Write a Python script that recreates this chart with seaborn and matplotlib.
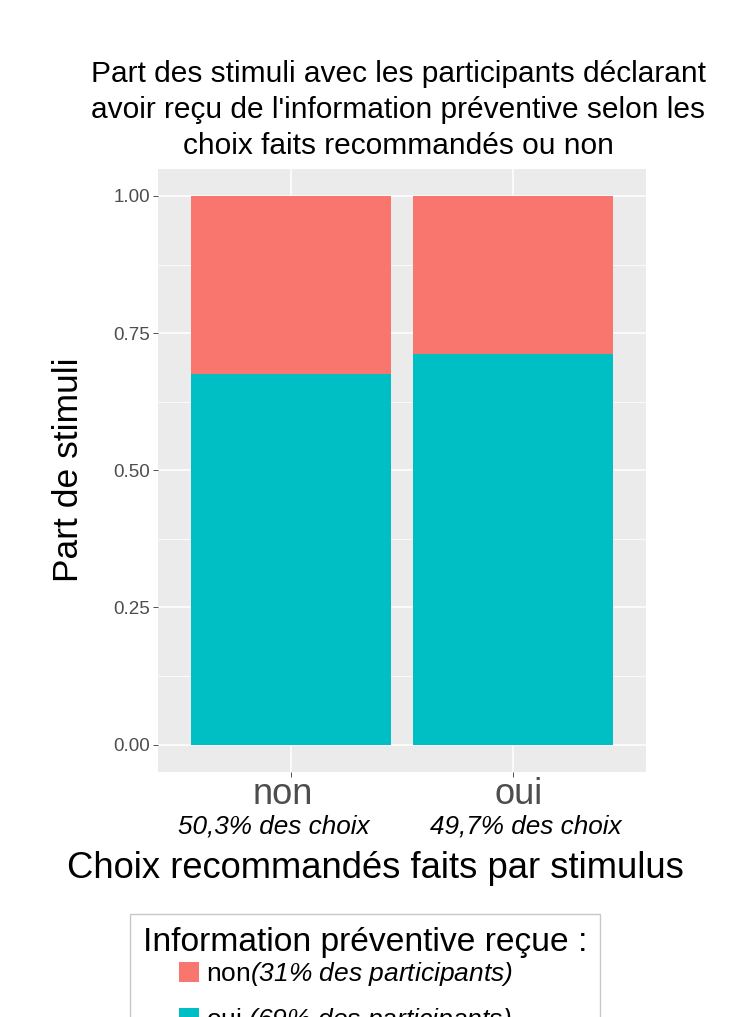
import pandas as pd
import numpy as np
import seaborn as sns
import matplotlib.pyplot as plt
from matplotlib.patches import Patch
from matplotlib.ticker import MultipleLocator

# donnees
choix = ["non", "oui"]
part_oui = [0.675, 0.712]   # information preventive recue : oui
part_non = [0.325, 0.288]   # information preventive recue : non
part_choix = ["50,3% des choix", "49,7% des choix"]
legende_labels = ["non", "oui "]
legende_part = ["(31% des participants)", "(69% des participants)"]

titre = ("Part des stimuli avec les participants déclarant\n"
         "avoir reçu de l'information préventive selon les\n"
         "choix faits recommandés ou non")

rouge = "#F8766D"
bleu = "#00BFC4"

sns.set_theme(style="white")
plt.rcParams['font.family'] = ['Liberation Sans', 'DejaVu Sans']
plt.rcParams['text.color'] = 'black'
plt.rcParams['axes.labelcolor'] = 'black'
# le mathtext ne sert qu'aux parties en italique de la legende
plt.rcParams['mathtext.fontset'] = 'custom'
plt.rcParams['mathtext.rm'] = 'Liberation Sans:italic'
plt.rcParams['mathtext.it'] = 'Liberation Sans:italic'

df = pd.DataFrame({"choix": choix, "oui": part_oui, "non": part_non})
df["total"] = df["oui"] + df["non"]

fig = plt.figure(figsize=(7.56, 10.17), dpi=100)
ax = fig.add_axes([158/756, 1-772/1017, 488/756, 603.5/1017])
ax.set_facecolor("#EBEBEB")

# barres empilees : total (non) puis oui par dessus
sns.barplot(data=df, x="choix", y="total", color=rouge, width=0.9,
            saturation=1, linewidth=0, ax=ax, zorder=2)
sns.barplot(data=df, x="choix", y="oui", color=bleu, width=0.9,
            saturation=1, linewidth=0, ax=ax, zorder=3)

ax.set_xlim(-0.6, 1.6)
ax.set_ylim(-0.05, 1.05)
ax.yaxis.set_minor_locator(MultipleLocator(0.125))
ax.set_yticks([0, 0.25, 0.5, 0.75, 1.0])
ax.set_yticklabels(["0.00", "0.25", "0.50", "0.75", "1.00"])
ax.grid(True, which='major', color='white', linewidth=1.1, zorder=0)
ax.grid(True, which='minor', axis='y', color='white', linewidth=0.55, zorder=0)
ax.set_axisbelow(True)
for s in ax.spines.values():
    s.set_visible(False)

ax.tick_params(axis='y', which='major', length=3.5, width=0.6, color='#333333',
               labelsize=13.5, labelcolor='#4D4D4D', pad=2, left=True)
ax.tick_params(axis='y', which='minor', length=0, left=False)
ax.tick_params(axis='x', length=3.5, width=0.6, color='#333333',
               labelbottom=False, bottom=True)

# etiquettes des categories sur deux lignes (la 2e en italique)
decal_cat = [-8, 6]
decal_part = [-17, 13]
for i, (cat, txt) in enumerate(zip(choix, part_choix)):
    ax.annotate(cat, xy=(i, 0), xycoords=('data', 'axes fraction'),
                xytext=(decal_cat[i] * 0.72, -16.5), textcoords='offset points',
                ha='center', va='center', fontsize=26, color='#4D4D4D')
    ax.annotate(txt, xy=(i, 0), xycoords=('data', 'axes fraction'),
                xytext=(decal_part[i] * 0.72, -39), textcoords='offset points',
                ha='center', va='center', fontsize=18.8, style='italic',
                color='black')

ax.set_xlabel("Choix recommandés faits par stimulus", fontsize=26.2, va='center')
ax.xaxis.set_label_coords((375-158)/488, -(869-772)/603.5)
ax.set_ylabel("Part de stimuli", fontsize=25.5, va='center')
ax.yaxis.set_label_coords(-(158-68)/488, 0.5)

fig.text(398/756, 1-110/1017, titre, ha='center', va='center',
         fontsize=21.5, multialignment='center', linespacing=1.36)

handles = [Patch(facecolor=rouge, edgecolor='none'),
           Patch(facecolor=bleu, edgecolor='none')]
# espaces en fin d'etiquette : decale les entrees vers la gauche comme l'original
labels = [lab + "$" + part.replace('%', r'\%').replace(' ', r'\ ') + "$" + "      "
          for lab, part in zip(legende_labels, legende_part)]
leg = fig.legend(handles, labels, title="Information préventive reçue :",
                 loc='upper left', bbox_to_anchor=(130/756, 1-914/1017),
                 borderaxespad=0, fontsize=19, title_fontsize=24.2,
                 frameon=True, fancybox=False, edgecolor='#BBBBBB',
                 handlelength=0.76, handleheight=0.8, handletextpad=0.25,
                 labelspacing=0.66, borderpad=0.48)
leg.get_frame().set_linewidth(1.0)
leg._legend_box.sep = 2  # ecart titre / entrees plus serre

fig.savefig("out.png", dpi=100)
